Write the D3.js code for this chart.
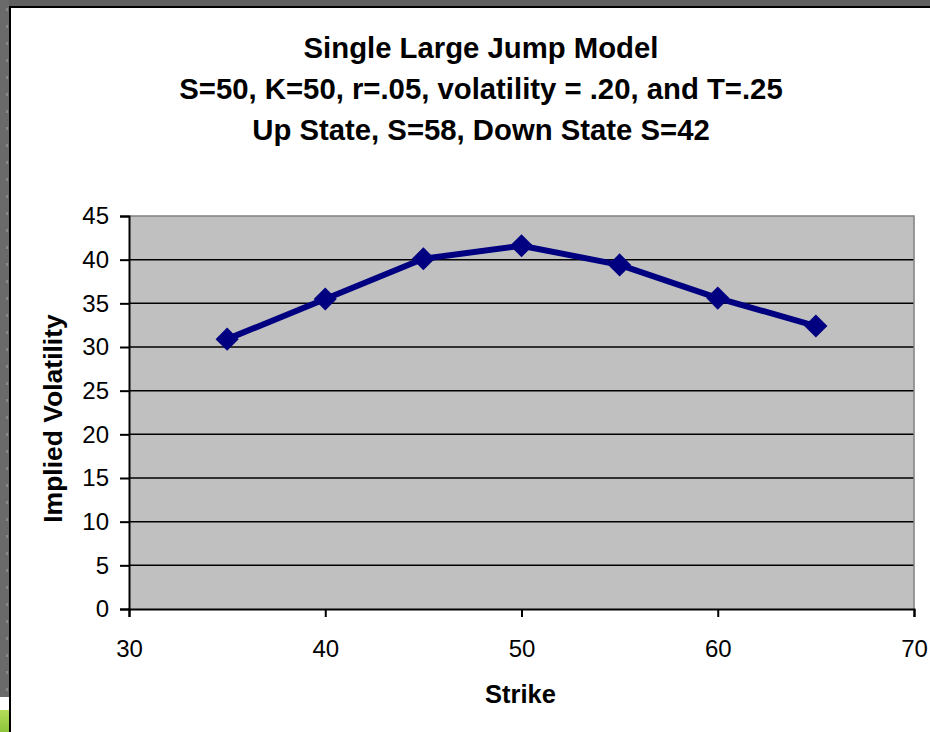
<!DOCTYPE html>
<html>
<head>
<meta charset="utf-8">
<script src="https://cdn.jsdelivr.net/npm/d3@7"></script>
<style>
  html, body { margin: 0; padding: 0; background: #fff; }
  svg { display: block; }
</style>
</head>
<body>
<svg id="chart" width="930" height="732"></svg>
<script>
// Implied volatility smile under the single large jump model
const strikes = [35, 40, 45, 50, 55, 60, 65];
const impliedVol = [30.9, 35.5, 40.1, 41.6, 39.4, 35.6, 32.4];
const xTicks = [30, 40, 50, 60, 70];
const yTicks = [0, 5, 10, 15, 20, 25, 30, 35, 40, 45];
const titleLines = [
  "Single Large Jump Model",
  "S=50, K=50, r=.05, volatility = .20, and T=.25",
  "Up State, S=58, Down State S=42"
];

const svg = d3.select("#chart");
const W = 930, H = 732;
const font = "'Liberation Sans', Arial, sans-serif";

// Window frame around the chart sheet
svg.append("rect").attr("x", 0).attr("y", 0).attr("width", W).attr("height", 6).attr("fill", "#606060");
svg.append("rect").attr("x", 0).attr("y", 0).attr("width", 9).attr("height", 697).attr("fill", "#6a6a6a");
svg.selectAll("rect.dot").data(d3.range(8, 697, 17)).enter().append("rect")
  .attr("class", "dot").attr("x", 6).attr("y", d => d).attr("width", 2).attr("height", 3).attr("fill", "#8a8a8a");
const grad = svg.append("defs").append("linearGradient").attr("id", "grn")
  .attr("x1", 0).attr("y1", 0).attr("x2", 0).attr("y2", 1);
grad.append("stop").attr("offset", 0).attr("stop-color", "#b5dc5a");
grad.append("stop").attr("offset", 1).attr("stop-color", "#8cc43a");
svg.append("rect").attr("x", 0).attr("y", 710).attr("width", 9).attr("height", 22).attr("fill", "url(#grn)");
svg.append("line").attr("x1", 10).attr("x2", 10).attr("y1", 6).attr("y2", H).attr("stroke", "#000").attr("stroke-width", 2);
svg.append("line").attr("x1", 9).attr("x2", W).attr("y1", 7).attr("y2", 7).attr("stroke", "#000").attr("stroke-width", 2);

// Plot area
const plot = { left: 129, top: 216, right: 914, bottom: 609 };
const x = d3.scaleLinear().domain([30, 70]).range([plot.left, plot.right]);
const y = d3.scaleLinear().domain([0, 45]).range([plot.bottom, plot.top]);

svg.append("rect")
  .attr("x", plot.left).attr("y", plot.top)
  .attr("width", plot.right - plot.left).attr("height", plot.bottom - plot.top)
  .attr("fill", "#c0c0c0");

// Horizontal gridlines
svg.append("g").selectAll("line").data(yTicks.filter(v => v > 0 && v < 45)).enter().append("line")
  .attr("x1", plot.left).attr("x2", plot.right)
  .attr("y1", d => y(d)).attr("y2", d => y(d))
  .attr("stroke", "#000").attr("stroke-width", 1.5);

// Top and right plot border
svg.append("path")
  .attr("d", `M${plot.left},${plot.top}H${plot.right}V${plot.bottom}`)
  .attr("fill", "none").attr("stroke", "#808080").attr("stroke-width", 1.5);

// Axes
const yAxis = d3.axisLeft(y).tickValues(yTicks).tickSize(9).tickPadding(11).tickFormat(d3.format("d"));
const gy = svg.append("g").attr("transform", `translate(${plot.left},0)`).call(yAxis);
const xAxis = d3.axisBottom(x).tickValues(xTicks).tickSize(8).tickPadding(23).tickFormat(d3.format("d"));
const gx = svg.append("g").attr("transform", `translate(0,${plot.bottom})`).call(xAxis);
[gy, gx].forEach(g => {
  g.attr("font-size", null).attr("font-family", null);
  g.select(".domain").attr("stroke", "#000").attr("stroke-width", 2);
  g.selectAll(".tick line").attr("stroke", "#000").attr("stroke-width", 2);
  g.selectAll(".tick text").attr("fill", "#000").style("font-family", font).style("font-size", "24px");
});

// Series line and diamond markers
const line = d3.line().x((d, i) => x(strikes[i])).y(d => y(d));
svg.append("path").datum(impliedVol)
  .attr("d", line)
  .attr("fill", "none").attr("stroke", "#000080").attr("stroke-width", 6).attr("stroke-linejoin", "round");
const diamond = d3.symbol().type(d3.symbolDiamond2).size(340);
svg.append("g").selectAll("path").data(impliedVol).enter().append("path")
  .attr("transform", (d, i) => `translate(${x(strikes[i])},${y(d)})`)
  .attr("d", diamond)
  .attr("fill", "#000080");

// Titles
svg.append("g").selectAll("text").data(titleLines).enter().append("text")
  .attr("x", 481).attr("y", (d, i) => 58 + i * 41)
  .attr("text-anchor", "middle")
  .style("font-family", font).style("font-weight", "bold").style("font-size", "29.3px")
  .attr("fill", "#000")
  .text(d => d);

svg.append("text")
  .attr("x", (plot.left + plot.right) / 2 - 1).attr("y", 703)
  .attr("text-anchor", "middle")
  .style("font-family", font).style("font-weight", "bold").style("font-size", "25.5px")
  .text("Strike");

svg.append("text")
  .attr("transform", `translate(62,${(plot.top + plot.bottom) / 2 + 6}) rotate(-90)`)
  .attr("text-anchor", "middle")
  .style("font-family", font).style("font-weight", "bold").style("font-size", "26.5px")
  .text("Implied Volatility");
</script>
</body>
</html>
